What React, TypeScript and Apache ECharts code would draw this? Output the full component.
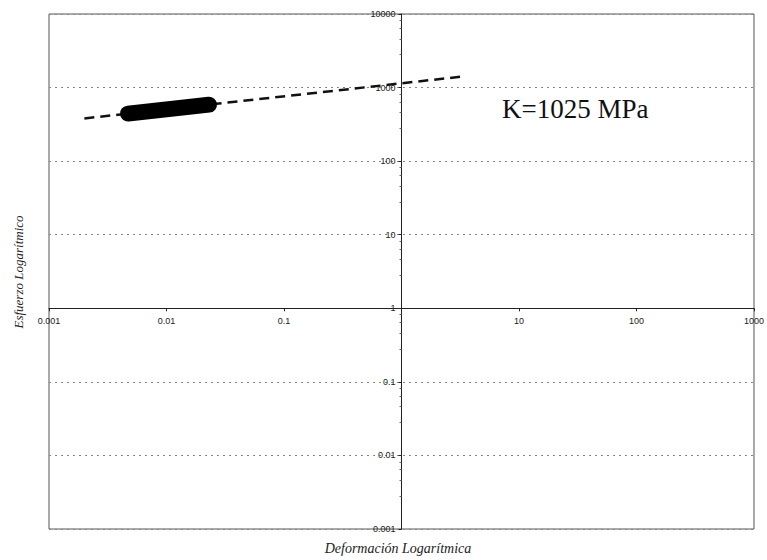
import React, { useEffect, useRef } from "react";
import * as echarts from "echarts";

const xTicks = [0.001, 0.01, 0.1, 1, 10, 100, 1000];
const yTicks = [0.001, 0.01, 0.1, 1, 10, 100, 1000, 10000];
const fitStrain = [0.002, 3.15];
const fitStress = [381, 1400];
const bandStrain = [0.0047, 0.008, 0.013, 0.023];
const bandStress = [443, 486, 530, 586];
const annotation = "K=1025 MPa";
const xName = "Deformación Logarítmica";
const yName = "Esfuerzo Logarítmico";

const fmt = (v: number) => (v >= 1 ? String(Math.round(v)) : String(parseFloat(v.toPrecision(1))));

export default function App() {
  const ref = useRef<HTMLDivElement>(null);
  useEffect(() => {
    if (!ref.current) return;
    const chart = echarts.init(ref.current, null, { renderer: "svg" });
    const gridLeft = 49, gridRight = 13, gridTop = 14, gridBottom = 31;
    const W = 767, H = 560;
    const plotW = W - gridLeft - gridRight;
    const plotH = H - gridTop - gridBottom;
    const xDec = Math.log10(xTicks[xTicks.length - 1]) - Math.log10(xTicks[0]);
    const yDec = Math.log10(yTicks[yTicks.length - 1]) - Math.log10(yTicks[0]);
    const xOff = (plotW * (0 - Math.log10(xTicks[0]))) / xDec;
    const yOff = (plotH * (0 - Math.log10(yTicks[0]))) / yDec;
    const labelStyle = { fontFamily: "Liberation Sans, Arial, sans-serif", fontSize: 9, color: "#222" };
    chart.setOption({
      animation: false,
      backgroundColor: "#fff",
      grid: {
        left: gridLeft,
        right: gridRight,
        top: gridTop,
        bottom: gridBottom,
        show: true,
        borderColor: "#555",
        borderWidth: 1,
      },
      xAxis: {
        type: "log",
        logBase: 10,
        min: xTicks[0],
        max: xTicks[xTicks.length - 1],
        position: "bottom",
        offset: -yOff,
        axisLine: { show: true, lineStyle: { color: "#222", width: 1 } },
        axisTick: { show: true, length: 3, lineStyle: { color: "#222" } },
        minorTick: { show: false },
        axisLabel: {
          ...labelStyle,
          margin: 8,
          showMinLabel: true,
          showMaxLabel: true,
          formatter: (v: number) => (Math.abs(v - 1) < 1e-9 ? "" : fmt(v)),
        },
        splitLine: { show: false },
      },
      yAxis: {
        type: "log",
        logBase: 10,
        min: yTicks[0],
        max: yTicks[yTicks.length - 1],
        position: "left",
        offset: -xOff,
        axisLine: { show: true, lineStyle: { color: "#222", width: 1 } },
        axisTick: { show: true, length: 3, lineStyle: { color: "#222" } },
        minorTick: { show: true, splitNumber: 5, length: 2, lineStyle: { color: "#666" } },
        axisLabel: {
          ...labelStyle,
          margin: 6,
          showMinLabel: true,
          showMaxLabel: true,
          formatter: (v: number) => fmt(v),
        },
        splitLine: { show: true, lineStyle: { type: [2, 4], color: "#888", width: 1 } },
      },
      series: [
        {
          type: "line",
          data: fitStrain.map((x, i) => [x, fitStress[i]]),
          showSymbol: false,
          lineStyle: { color: "#111", width: 2.5, type: [10, 6] },
          z: 3,
        },
        {
          type: "line",
          data: bandStrain.map((x, i) => [x, bandStress[i]]),
          showSymbol: false,
          lineStyle: { color: "#000", width: 16, cap: "round", join: "round" },
          z: 4,
        },
      ],
      graphic: [
        {
          type: "text",
          left: 502,
          top: 95,
          style: {
            text: annotation,
            fontFamily: "Liberation Serif, Times New Roman, serif",
            fontSize: 27,
            fill: "#111",
          },
        },
        {
          type: "text",
          x: 398,
          y: 548,
          style: {
            text: xName,
            fontFamily: "Liberation Serif, Times New Roman, serif",
            fontStyle: "italic",
            fontSize: 14,
            fill: "#222",
            align: "center",
            verticalAlign: "middle",
          },
        },
        {
          type: "text",
          x: 18,
          y: 272,
          rotation: Math.PI / 2,
          style: {
            text: yName,
            fontFamily: "Liberation Serif, Times New Roman, serif",
            fontStyle: "italic",
            fontSize: 13,
            fill: "#222",
            align: "center",
            verticalAlign: "middle",
          },
        },
      ],
    });
    return () => chart.dispose();
  }, []);
  return (
    <div
      ref={ref}
      style={{ position: "fixed", left: 0, top: 0, width: 767, height: 560, background: "#fff" }}
    />
  );
}
